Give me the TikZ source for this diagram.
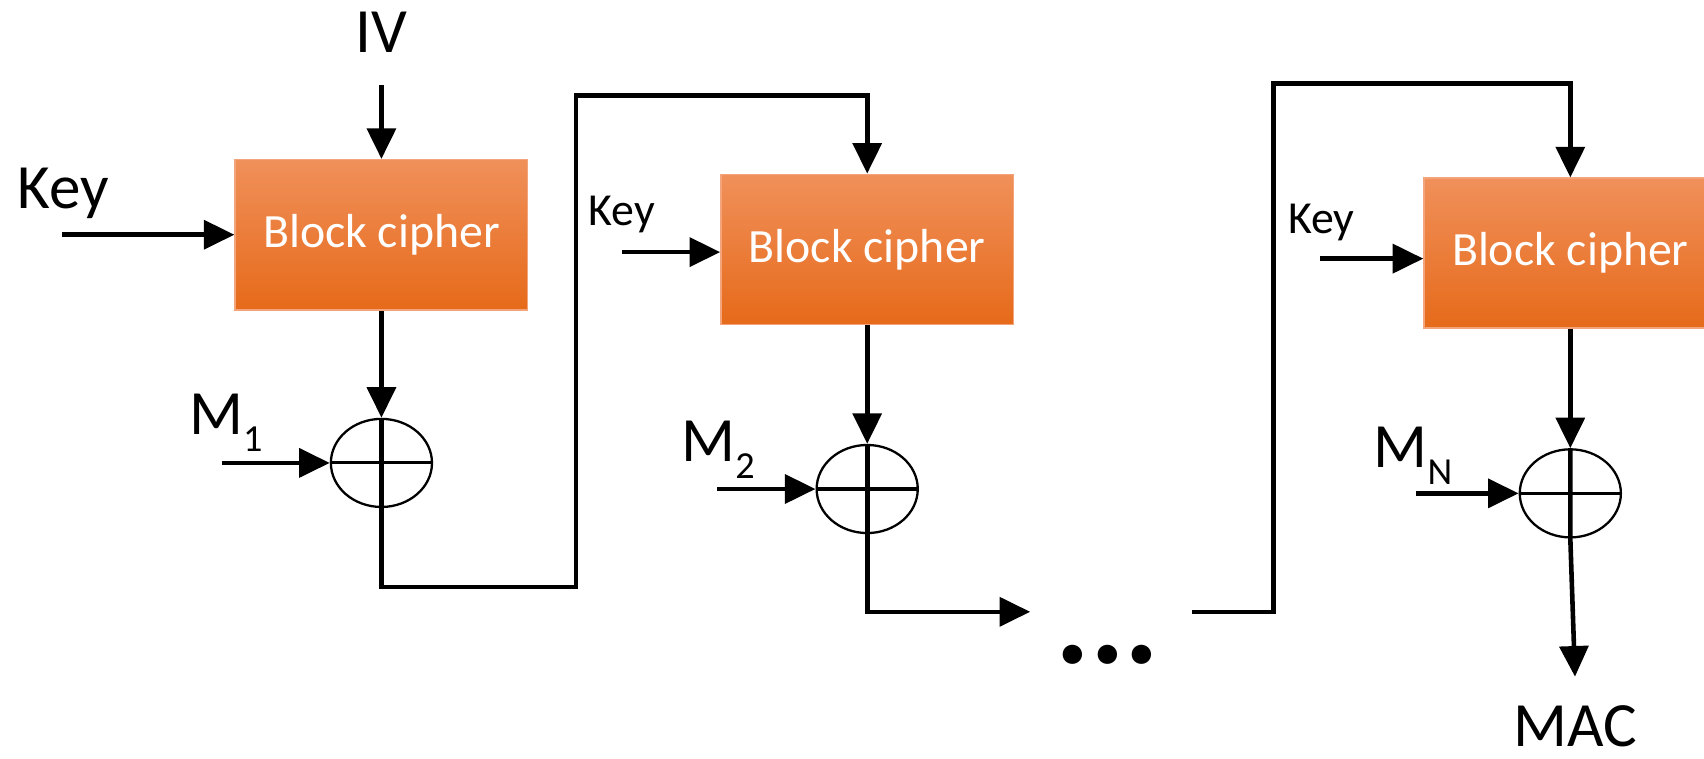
\documentclass[tikz,border=0pt]{standalone}
\usepackage{fontspec}
\setmainfont{Carlito}
\usetikzlibrary{shapes.geometric, arrows.meta, positioning}

\definecolor{bctop}{HTML}{F0905A}
\definecolor{bcmid}{HTML}{F37E35}
\definecolor{bcbot}{HTML}{E66A1A}
\definecolor{bcline}{HTML}{F4A47A}

\newcommand{\msub}[1]{M\raisebox{-4.4pt}{\fontsize{10}{10}\selectfont #1}}

\begin{document}
\begin{tikzpicture}[
  x=0.01cm, y=-0.01cm,
  >={Triangle[length=8pt, width=7.5pt]},
  line width=1.2pt,
  cipher/.style={rectangle, draw=bcline, line width=0.4pt, top color=bctop, middle color=bcmid, bottom color=bcbot, minimum width=2.69cm, minimum height=1.38cm, text=white, font=\fontsize{12.5}{12.5}\selectfont},
  xor/.style={ellipse, draw, line width=0.6pt, minimum width=0.93cm, minimum height=0.81cm, inner sep=0pt},
  big/.style={font=\fontsize{16.5}{16.5}\selectfont},
  small/.style={font=\fontsize{12}{12}\selectfont},
  cross/.style={line width=0.8pt},
]
  \useasboundingbox (0,0) rectangle (1568,698);

  % blocks and xors
  \node[cipher] (bc1) at (351,216) {Block cipher};
  \node[cipher] (bc2) at (798,229.5) {Block cipher};
  \node[cipher] (bc3) at (1445,233) {Block cipher};
  \node[xor] (x1) at (351,426) {};
  \node[xor] (x2) at (798,450) {};
  \node[xor] (x3) at (1445,454) {};

  % labels
  \node[big] (iv) at (351,30) {IV};
  \node[big] (key1) at (58,178) {Key};
  \node[small] (key2) at (572,197) {Key};
  \node[small] (key3) at (1216,205) {Key};
  \node[big, anchor=base west, inner sep=0pt] (m1) at (172,400) {\msub{1}};
  \node[big, anchor=base west, inner sep=0pt] (m2) at (625,425) {\msub{2}};
  \node[big, anchor=base west, inner sep=0pt] (mn) at (1262,430) {\msub{N}};
  \node[big, anchor=base, inner sep=1pt] (mac) at (1450,687) {MAC};
  \node[font=\fontsize{34}{34}\selectfont\bfseries] (dots) at (1019,603) {...};

  \coordinate (ivin) at (351,78);
  \coordinate (k1) at (57,216);
  \coordinate (k2) at (572,232);
  \coordinate (k3) at (1215,238);
  \coordinate (mi1) at (204,426);
  \coordinate (mi2) at (660,450);
  \coordinate (mi3) at (1303,454);
  \coordinate (c1) at (530,540);
  \coordinate (c2) at (530,88);
  \coordinate (c3) at (948,563);
  \coordinate (c4) at (1097,563);
  \coordinate (c5) at (1172,77);

  % first stage
  \draw[->] (ivin) -- (ivin |- bc1.north);
  \draw[->] (k1) -- (k1 -| bc1.west);
  \draw[->] (bc1.south) -- (x1.north);
  \draw[->] (mi1) -- (x1.west);
  \draw[cross] (x1.west) -- (x1.east);
  \draw[->] (x1.north) -- (x1.south) |- (c1) -- (c2) -| (bc2.north);

  % second stage
  \draw[->] (k2) -- (k2 -| bc2.west);
  \draw[->] (bc2.south) -- (x2.north);
  \draw[->] (mi2) -- (x2.west);
  \draw[cross] (x2.west) -- (x2.east);
  \draw[->] (x2.north) -- (x2.south) |- (c3);

  % last stage
  \draw[->] (c4) -| (c5) -| (bc3.north);
  \draw[->] (k3) -- (k3 -| bc3.west);
  \draw[->] (bc3.south) -- (x3.north);
  \draw[->] (mi3) -- (x3.west);
  \draw[cross] (x3.west) -- (x3.east);
  \draw[->, shorten >=6pt] (x3.north) -- (x3.south) -- (mac.north);
\end{tikzpicture}
\end{document}
